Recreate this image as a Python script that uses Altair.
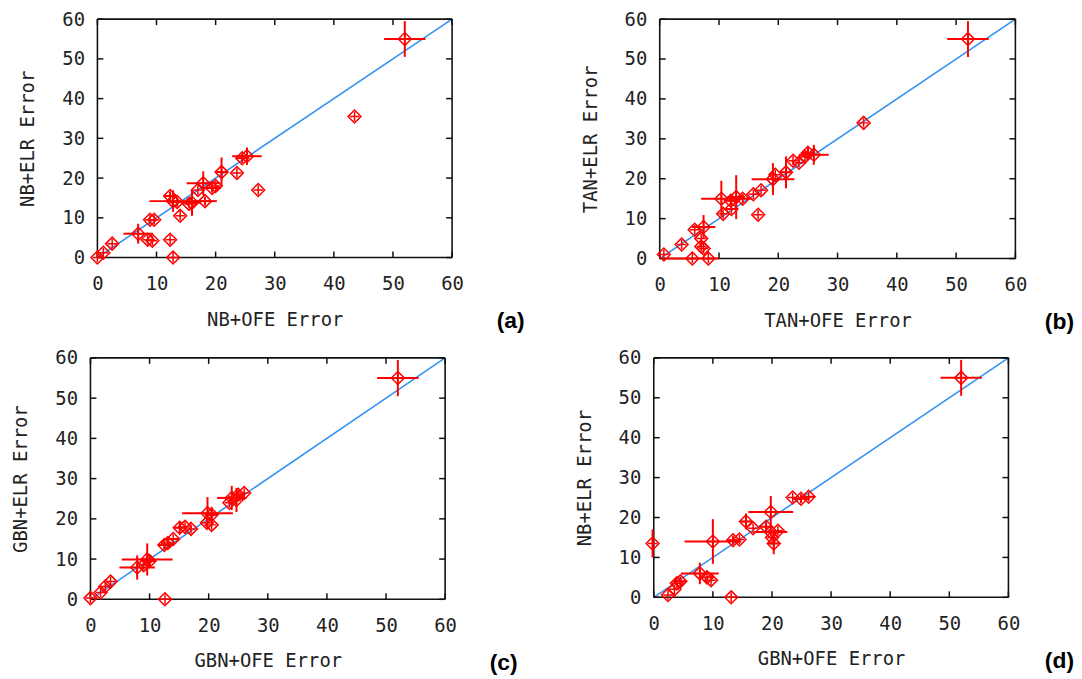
import altair as alt
import pandas as pd

TICKS = [0, 10, 20, 30, 40, 50, 60]
DIAG_X = [0, 60]
DIAG_Y = [0, 60]
# frame edges in data units: (x1, x2, y1, y2)
FRAME_X1 = [0, 0, 0, 60]
FRAME_X2 = [60, 60, 0, 60]
FRAME_Y1 = [0, 60, 0, 0]
FRAME_Y2 = [0, 60, 60, 60]

# Panel (a): NB+OFE vs NB+ELR
A_X = [52, 43.5, 27.2, 25.3, 24.5, 23.6, 21, 17.9, 19.4, 20, 17, 18.2, 16, 15.5, 12.8, 13.5, 12.3, 14, 8.9, 9.6, 6.9, 9.3, 8.5, 12.3, 12.8, 2.5, 1, 0]
A_Y = [55, 35.5, 17, 25.5, 25, 21.3, 21.5, 18.7, 17.5, 18, 17, 14.2, 13.8, 13.5, 14.2, 14, 15.5, 10.5, 9.5, 9.5, 6, 4.25, 4.5, 4.5, 0, 3.5, 1.2, 0]
A_XE = [3.5, 0, 0, 2.5, 1, 0, 1, 2.8, 1.5, 0, 0, 2, 1.5, 0, 4, 1, 1, 0, 0, 0, 2.5, 0, 0, 0, 0, 0, 0, 0]
A_YE = [4.5, 0, 0, 2.2, 1, 0, 3.7, 3, 1, 0, 0, 1, 3.3, 0, 2.7, 1, 1, 0, 0, 0, 2.5, 0, 0, 0, 0, 0, 0, 0]

# Panel (b): TAN+OFE vs TAN+ELR
B_X = [52, 34.4, 26, 25, 24.5, 23.5, 22.5, 21.3, 19.1, 19.5, 17.1, 15.8, 16.6, 12.9, 10.4, 12, 14, 10.7, 12.1, 7.4, 5.9, 3.7, 7, 7.4, 7, 5.5, 8.2, 0.7]
B_Y = [55, 34, 26, 26.5, 25.5, 24, 24.5, 21.6, 19.9, 21, 17.1, 16.1, 11, 15.4, 15, 14.5, 15, 11.2, 12.4, 7.9, 7.2, 3.5, 3, 2.5, 5, 0, 0, 1]
B_XE = [3.5, 0, 2.5, 1, 0, 0, 0, 1, 3.6, 0, 0, 0, 0, 1.5, 3.4, 1, 1.5, 0, 1, 2, 0, 0, 0, 0, 0, 4.5, 0, 0]
B_YE = [4.5, 0, 2.5, 1.5, 0, 0, 0, 4, 4, 0, 0, 0, 0, 5.5, 4.5, 1, 1, 0, 0, 3, 0, 0, 0, 0, 0, 0, 0, 0]

# Panel (c): GBN+OFE vs GBN+ELR
C_X = [52, 26, 25, 23.9, 23.5, 24.7, 19.8, 20.5, 20.5, 19.7, 16, 15.1, 17, 13.1, 12.5, 14, 9.6, 10, 7.9, 9, 3.4, 2.5, 1.7, 0, 12.6]
C_Y = [55, 26.4, 26, 25.2, 24, 24.7, 21.4, 21, 18.5, 19, 18, 17.8, 17.5, 14, 13.5, 15, 9.9, 9.5, 7.9, 8.5, 4.4, 3.2, 1.7, 0.3, 0]
C_XE = [3.5, 0, 1, 2.5, 0, 0, 4.3, 1, 0, 0, 0, 1, 0, 0, 1, 1, 4.3, 1, 3, 0, 0, 0, 0, 0, 0]
C_YE = [4.5, 0, 1, 3, 0, 3, 4, 2, 0, 0, 0, 1.5, 0, 0, 1, 0, 4, 1.5, 3, 0, 0, 0, 0, 0, 0]

# Panel (d): GBN+OFE vs NB+ELR
D_X = [52, 24.9, 26.2, 23.5, 19.8, 15.6, 16.8, 19, 19.8, 20.3, 21, 20, 13.4, 14.5, 10, -0.2, 7.8, 9.7, 9, 3.9, 4.5, 2.4, 3.5, 13.1]
D_Y = [55, 24.7, 25.2, 25, 21.4, 19, 17.3, 17.7, 16.4, 13.5, 16.7, 15, 14.3, 14.5, 14, 13.5, 6, 4.3, 5, 3.5, 4, 0.6, 2, 0]
D_XE = [3.5, 1.5, 1, 0, 3.8, 1, 0, 1, 2.8, 1, 0, 0, 1, 0, 4.8, 0, 3.2, 0, 1, 0, 1, 0, 0, 0]
D_YE = [4.5, 1, 0, 0, 4, 2, 0, 1, 0, 2.7, 0, 0, 1, 0, 5.6, 3.5, 2.7, 0, 0, 0, 1, 0, 0, 0]

RED = "#ff0000"
BLUE = "#3393f2"
INK = "#111111"
FONT = "DejaVu Sans Mono"
PLUS = "M-1,0L1,0M0,-1L0,1"


def panel(xs, ys, xes, yes, xtitle, ytitle, tag, W, H, shift, tag_dx):
    df = pd.DataFrame({"x": xs, "y": ys, "xe": xes, "ye": yes})
    df["xlo"] = df["x"] - df["xe"]
    df["xhi"] = df["x"] + df["xe"]
    df["ylo"] = df["y"] - df["ye"]
    df["yhi"] = df["y"] + df["ye"]
    diag = pd.DataFrame({"dx": DIAG_X, "dy": DIAG_Y})
    tk = pd.DataFrame({"t": TICKS})
    fr = pd.DataFrame({"fx1": FRAME_X1, "fx2": FRAME_X2, "fy1": FRAME_Y1, "fy2": FRAME_Y2})

    x0 = -shift
    x1 = W - shift
    scx = alt.Scale(domain=[0, 60], nice=False, zero=False, range=[x0, x1])
    scy = alt.Scale(domain=[0, 60], nice=False, zero=False)
    common = dict(values=TICKS, grid=False, domain=False, ticks=False, tickSize=0,
                  format="d", labelFlush=False, labelFont=FONT, labelFontSize=19,
                  labelColor="#222", titleFont=FONT, titleFontSize=19,
                  titleColor="#222", titleFontWeight="normal")
    axx = alt.Axis(title=xtitle, labelPadding=17, titlePadding=17, **common)
    axy = alt.Axis(title=ytitle, labelPadding=13 + shift, titlePadding=24, **common)

    def X(f):
        return alt.X(f, type="quantitative", scale=scx, axis=axx)

    def Y(f):
        return alt.Y(f, type="quantitative", scale=scy, axis=axy)

    base = alt.Chart(df)
    frame = alt.Chart(fr).mark_rule(color=INK, strokeWidth=1.6).encode(
        x=X("fx1"), x2="fx2", y=Y("fy1"), y2="fy2")
    line = alt.Chart(diag).mark_line(color=BLUE, strokeWidth=1.6).encode(x=X("dx"), y=Y("dy"))
    xbar = base.mark_rule(color=RED, strokeWidth=2).encode(x=X("xlo"), x2="xhi", y=Y("y"))
    ybar = base.mark_rule(color=RED, strokeWidth=2).encode(x=X("x"), y=Y("ylo"), y2="yhi")
    dia = base.mark_point(shape="diamond", filled=False, color=RED, size=170,
                          strokeWidth=1.5, opacity=1).encode(x=X("x"), y=Y("y"))
    plus = base.mark_point(shape=PLUS, filled=False, color=RED, size=90,
                           strokeWidth=1.5, opacity=1).encode(x=X("x"), y=Y("y"))
    tb = alt.Chart(tk).mark_rule(color=INK, strokeWidth=1.5).encode(
        x=X("t"), y=alt.value(H), y2=alt.value(H - 6))
    tt = alt.Chart(tk).mark_rule(color=INK, strokeWidth=1.5).encode(
        x=X("t"), y=alt.value(0), y2=alt.value(6))
    tl = alt.Chart(tk).mark_rule(color=INK, strokeWidth=1.5).encode(
        y=Y("t"), x=alt.value(x0), x2=alt.value(x0 + 6))
    tr = alt.Chart(tk).mark_rule(color=INK, strokeWidth=1.5).encode(
        y=Y("t"), x=alt.value(x1), x2=alt.value(x1 - 6))

    return alt.layer(line, frame, tb, tt, tl, tr, xbar, ybar, dia, plus).properties(
        width=x1, height=H,
        title=alt.TitleParams(tag, orient="bottom", anchor="end", frame="group",
                              dx=tag_dx, dy=-19, font="Liberation Sans",
                              fontWeight="bold", fontSize=23, color="#000", offset=0),
    )


pa = panel(A_X, A_Y, A_XE, A_YE, "NB+OFE Error", "NB+ELR Error", "(a)", 357, 240, 0, 73)
pb = panel(B_X, B_Y, B_XE, B_YE, "TAN+OFE Error", "TAN+ELR Error", "(b)", 358, 241, 0, 59)
pc = panel(C_X, C_Y, C_XE, C_YE, "GBN+OFE Error", "GBN+ELR Error", "(c)", 357, 243, 7, 73)
pd_ = panel(D_X, D_Y, D_XE, D_YE, "GBN+OFE Error", "NB+ELR Error", "(d)", 357, 241, 6, 66)

chart = alt.concat(pa, pb, pc, pd_, columns=2,
                   spacing={"row": 15, "column": 51}).properties(
    padding={"left": 4, "top": 0, "right": 0, "bottom": 0}
).configure(background="white").configure_view(strokeOpacity=0)

chart.save("out.html", embed_options={"renderer": "svg", "actions": False})
